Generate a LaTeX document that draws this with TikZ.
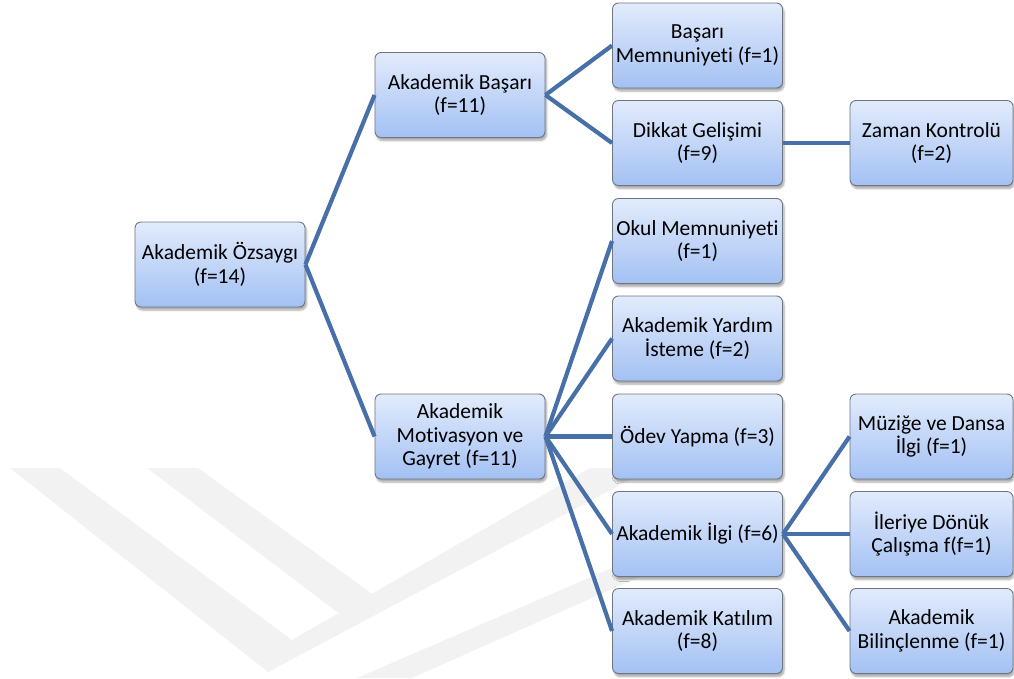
\documentclass[tikz,border=0pt]{standalone}
\usepackage{fontspec}
\setmainfont{Carlito}[Ligatures=NoCommon]
\usetikzlibrary{shadows.blur}

\definecolor{linkblue}{RGB}{72,112,168}
\definecolor{boxtop}{RGB}{226,235,252}
\definecolor{boxbot}{RGB}{163,193,243}
\definecolor{boxline}{RGB}{110,118,132}
\definecolor{wmgray}{RGB}{242,242,242}

\begin{document}
\begin{tikzpicture}[x=1pt,y=-1pt,
  topic/.style={draw=boxline, line width=0.9pt, rounded corners=6pt,
    top color=boxtop, bottom color=boxbot,
    minimum width=170pt, minimum height=85pt, inner sep=1pt,
    align=center, font=\fontsize{21.5}{23.6}\selectfont,
    blur shadow={shadow xshift=1.5pt, shadow yshift=-3pt,
      shadow blur steps=6, shadow opacity=35}},
  narrow/.style={topic, minimum width=163pt},
  link/.style={draw=linkblue, line width=4.2pt}]

\useasboundingbox (0,0) rectangle (1014,678);

% faint chevron emblem in the lower left
\begin{scope}
  \clip (0,468) rectangle (1014,678);
  \fill[wmgray] (10,468) -- (60,468) -- (292,640) -- (590,468) -- (652,468)
    -- (268,672) -- cycle;
  \fill[wmgray] (147,468) -- (198,468) -- (378,598) -- (345,618) -- cycle;
  \fill[wmgray] (357,678) -- (700,530) -- (745,530) -- (412,678) -- cycle;
\end{scope}

% column 1
\node[topic] (oz) at (220,264.5) {Akademik Özsaygı\\(f=14)};
% column 2
\node[topic] (basari) at (460,95) {Akademik Başarı\\(f=11)};
\node[topic] (motiv) at (460,436.5) {Akademik\\Motivasyon ve\\Gayret (f=11)};
% column 3
\node[topic] (bmem) at (697.5,45.5) {Başarı\\Memnuniyeti (f=1)};
\node[topic] (dikkat) at (697.5,143) {Dikkat Gelişimi\\(f=9)};
\node[topic] (okul) at (697.5,241) {Okul Memnuniyeti\\(f=1)};
\node[topic] (yardim) at (697.5,338.5) {Akademik Yardım\\İsteme (f=2)};
\node[topic] (odev) at (697.5,436.5) {Ödev Yapma (f=3)};
\node[topic] (ilgi) at (697.5,534) {Akademik İlgi (f=6)};
\node[topic] (katilim) at (697.5,631) {Akademik Katılım\\(f=8)};
% column 4
\node[narrow] (zaman) at (931.5,143) {Zaman Kontrolü\\(f=2)};
\node[narrow] (muzik) at (931.5,436.5) {Müziğe ve Dansa\\İlgi (f=1)};
\node[narrow] (ileri) at (931.5,534) {İleriye Dönük\\Çalışma f(f=1)};
\node[narrow] (bilinc) at (931.5,631) {Akademik\\Bilinçlenme (f=1)};

% connectors
\draw[link] (oz.east) -- (basari.west);
\draw[link] (oz.east) -- (motiv.west);
\draw[link] (basari.east) -- (bmem.west);
\draw[link] (basari.east) -- (dikkat.west);
\draw[link] (dikkat.east) -- (zaman.west);
\draw[link] (motiv.east) -- (okul.west);
\draw[link] (motiv.east) -- (yardim.west);
\draw[link] (motiv.east) -- (odev.west);
\draw[link] (motiv.east) -- (ilgi.west);
\draw[link] (motiv.east) -- (katilim.west);
\draw[link] (ilgi.east) -- (muzik.west);
\draw[link] (ilgi.east) -- (ileri.west);
\draw[link] (ilgi.east) -- (bilinc.west);
\end{tikzpicture}
\end{document}
